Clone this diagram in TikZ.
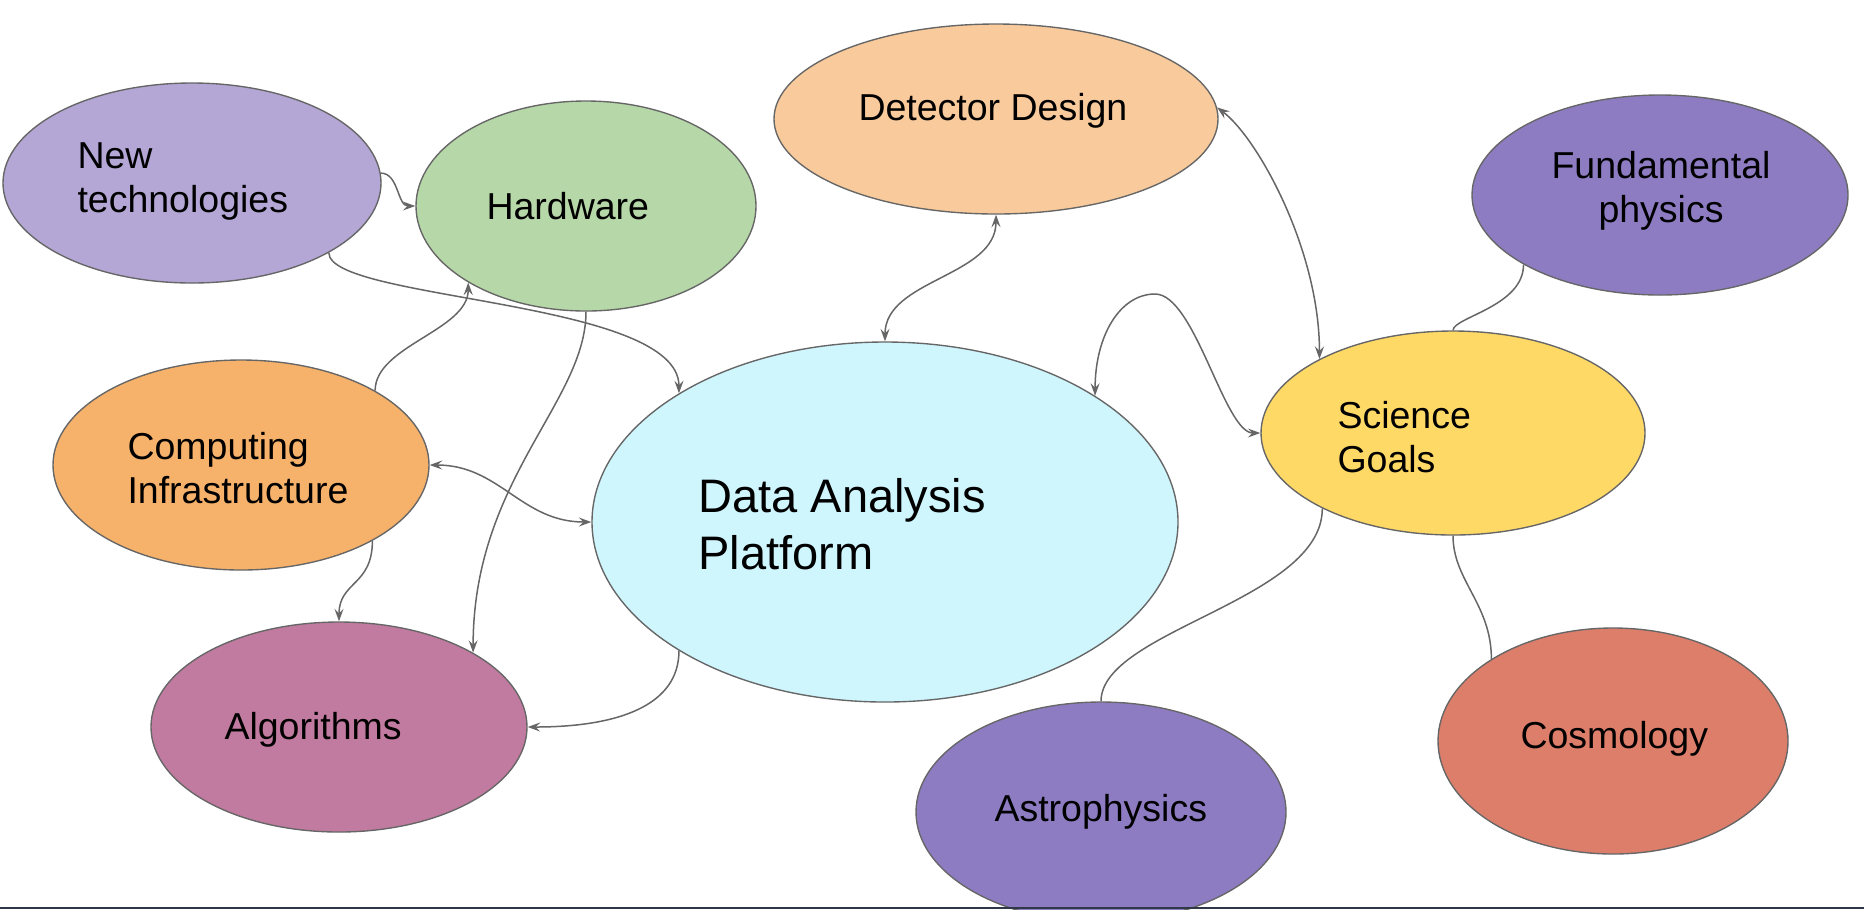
\documentclass[tikz,border=0pt]{standalone}
\usepackage{fontspec}
\setmainfont{Liberation Sans}
\usetikzlibrary{shapes,arrows.meta}

\definecolor{edgegray}{HTML}{666666}
\definecolor{lavender}{HTML}{B4A7D6}
\definecolor{sage}{HTML}{B6D7A8}
\definecolor{peach}{HTML}{F9CB9C}
\definecolor{topicviolet}{HTML}{8E7CC3}
\definecolor{apricot}{HTML}{F6B26B}
\definecolor{paleblue}{HTML}{CFF5FD}
\definecolor{mustard}{HTML}{FFD966}
\definecolor{mauve}{HTML}{C27BA0}
\definecolor{salmon}{HTML}{DD7E6B}
\definecolor{slate}{HTML}{2E3846}

\tikzset{
  bubble/.style={ellipse, draw=edgegray, line width=0.55pt, inner sep=0pt},
  bubbletext/.style={anchor=west, align=left, inner sep=0pt, font=\fontsize{15}{17.6}\selectfont},
  link/.style={draw=edgegray, line width=0.6pt},
}

\begin{document}
\begin{tikzpicture}[x=0.4pt, y=-0.4pt, >={Stealth[length=5pt,width=3.6pt,inset=1.8pt]}]
\useasboundingbox (0,0) rectangle (1864,909);
\clip (0,0) rectangle (1864,909);

% bubbles
\node[bubble, fill=lavender, minimum width=151.2pt, minimum height=80pt] (newtech) at (192,183) {};
\node[bubble, fill=sage, minimum width=136pt, minimum height=84pt] (hardware) at (586,206) {};
\node[bubble, fill=peach, minimum width=177.6pt, minimum height=76pt] (detector) at (996,119) {};
\node[bubble, fill=topicviolet, minimum width=150.4pt, minimum height=80pt] (fundamental) at (1660,195) {};
\node[bubble, fill=apricot, minimum width=150.4pt, minimum height=84pt] (computing) at (241,465) {};
\node[bubble, fill=paleblue, minimum width=234.4pt, minimum height=144pt] (platform) at (885,522) {};
\node[bubble, fill=mustard, minimum width=153.6pt, minimum height=81.6pt] (science) at (1453,433) {};
\node[bubble, fill=mauve, minimum width=150.4pt, minimum height=84pt] (algorithms) at (339,727) {};
\node[bubble, fill=topicviolet, minimum width=148pt, minimum height=88pt] (astro) at (1101,812) {};
\node[bubble, fill=salmon, minimum width=140pt, minimum height=90.4pt] (cosmology) at (1613,741) {};

% links
\draw[link,->] (newtech.3) .. controls +(18,0) and +(-18,0) .. (hardware.180);
\draw[link,->] (newtech.333) .. controls +(0,48) and +(0,-94) .. (platform.148);
\draw[link,->] (computing.29) .. controls +(0,-45) and +(0,48) .. (hardware.213);
\draw[link,->] (hardware.270) .. controls +(0,90) and +(0,-173) .. (algorithms.29);
\draw[link,<->] (computing.0) .. controls +(70,0) and +(-70,0) .. (platform.180);
\draw[link,->] (computing.330) .. controls +(0,45) and +(0,-40) .. (algorithms.90);
\draw[link,->] (platform.212) .. controls +(0,55) and +(90,0) .. (algorithms.0);
\draw[link,<->] (platform.90) .. controls +(0,-62) and +(0,62) .. (detector.270);
\draw[link,<->] (detector.3) .. controls +(40,30) and +(0,-110) .. (science.151);
\coordinate (hump) at (1155,294);
\draw[link,<->] (platform.31) .. controls +(0,-60) and +(-35,0) .. (hump)
  .. controls +(40,0) and +(-36,0) .. (science.180);
\draw[link] (science.90) .. controls +(0,-13) and +(0,42) .. (fundamental.207);
\draw[link] (science.210) .. controls +(0,92) and +(0,-71) .. (astro.90);
\draw[link] (science.270) .. controls +(0,45) and +(0,-55) .. (cosmology.146);

% texts
\node[bubbletext] (newtechtext) at (77,181) {New\\technologies};
\node[bubbletext] (hardwaretext) at (486,206) {Hardware};
\node[bubbletext] (detectortext) at (858,111) {Detector Design};
\node[bubbletext, anchor=center, align=center] (fundamentaltext) at (1661,191) {Fundamental\\physics};
\node[bubbletext] (computingtext) at (127,468) {Computing\\Infrastructure};
\node[bubbletext, font=\fontsize{18.8}{22.8}\selectfont] (platformtext) at (698,524) {Data Analysis\\Platform};
\node[bubbletext] (sciencetext) at (1337,437) {Science\\Goals};
\node[bubbletext] (algorithmstext) at (224,730) {Algorithms};
\node[bubbletext] (astrotext) at (994,812) {Astrophysics};
\node[bubbletext] (cosmologytext) at (1520,739) {Cosmology};

\fill[slate] (0,907) rectangle (1864,909);
\end{tikzpicture}
\end{document}
